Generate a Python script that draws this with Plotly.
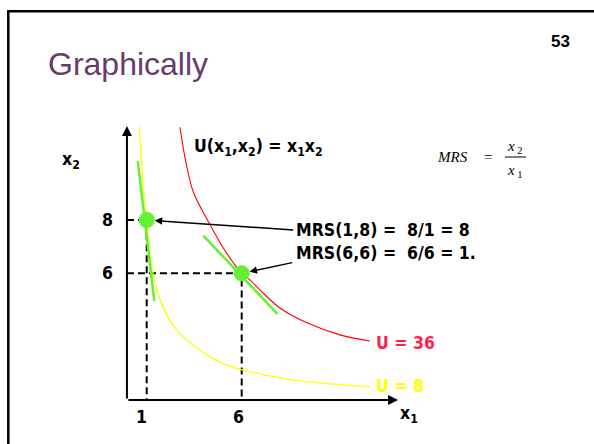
import plotly.graph_objects as go

W, H = 594, 444

# Indifference curve U = 8, traced as (x1, x2) pairs
u8_x1 = [0.61, 0.74, 0.87, 1.0, 1.04, 1.33, 1.86, 2.59, 3.65, 4.86, 6.07, 7.49, 9.07, 10.65, 12.75]
u8_x2 = [11.50, 10.06, 8.83, 8.0, 7.62, 6.01, 4.74, 3.87, 3.20, 2.67, 2.37, 2.15, 1.96, 1.85, 1.74]

# Indifference curve U = 36
u36_x1 = [2.75, 3.02, 3.45, 4.29, 5.21, 6.0, 6.43, 7.12, 8.01, 9.44, 11.17, 12.75]
u36_x2 = [11.48, 10.33, 9.06, 7.88, 6.75, 6.0, 5.75, 5.26, 4.70, 4.14, 3.69, 3.46]

# Bundles where the MRS is evaluated
pts_x1 = [1, 6]
pts_x2 = [8, 6]

# Tangent segments at each bundle (x1 ends, x2 ends)
tan1_x1 = [0.53, 1.40]
tan1_x2 = [10.21, 4.96]
tan2_x1 = [3.98, 7.89]
tan2_x2 = [7.41, 4.47]

# Axis extent in data units
AX_X0, AX_X1 = -0.04, 14.23
AX_Y0, AX_Y1 = 1.246, 11.53

GREEN = "#66f033"
YELLOW = "#ffff00"
RED = "#ff0000"
LABEL_RED = "#ff1f4b"
BOLD = "DejaVu Sans Condensed, DejaVu Sans, sans-serif"
BS = 17.5


def px(x):
    return x / W


def py(y):
    return 1 - y / H


fig = go.Figure()

# dashed guides from each bundle to the axes
for x, y in zip(pts_x1, pts_x2):
    fig.add_trace(go.Scatter(x=[AX_X0, x, x], y=[y, y, AX_Y0], mode="lines",
                             line=dict(color="black", width=2, dash="7px,4px"),
                             hoverinfo="skip", showlegend=False))

fig.add_trace(go.Scatter(x=u8_x1, y=u8_x2, mode="lines", line=dict(color=YELLOW, width=1.3, shape="spline"),
                         showlegend=False))
fig.add_trace(go.Scatter(x=u36_x1, y=u36_x2, mode="lines", line=dict(color=RED, width=1.1, shape="spline"),
                         showlegend=False))
fig.add_trace(go.Scatter(x=tan1_x1, y=tan1_x2, mode="lines", line=dict(color=GREEN, width=2.5),
                         showlegend=False))
fig.add_trace(go.Scatter(x=tan2_x1, y=tan2_x2, mode="lines", line=dict(color=GREEN, width=2.5),
                         showlegend=False))
fig.add_trace(go.Scatter(x=pts_x1, y=pts_x2, mode="markers", marker=dict(color=GREEN, size=16),
                         showlegend=False))

ann = []

# axes drawn as arrows from the origin
ann.append(dict(x=AX_X1, y=AX_Y0, ax=AX_X0, ay=AX_Y0, axref="x", ayref="y", xref="x", yref="y",
                showarrow=True, arrowhead=2, arrowsize=1, arrowwidth=2, arrowcolor="black", text=""))
ann.append(dict(x=AX_X0, y=AX_Y1, ax=AX_X0, ay=AX_Y0, axref="x", ayref="y", xref="x", yref="y",
                showarrow=True, arrowhead=2, arrowsize=1, arrowwidth=2, arrowcolor="black", text=""))

# pointers from the MRS statements to the bundles
ann.append(dict(x=pts_x1[0], y=pts_x2[0], ax=148, ay=10, xref="x", yref="y", showarrow=True,
                arrowhead=2, arrowsize=1, arrowwidth=1.5, arrowcolor="black", standoff=8, text=""))
ann.append(dict(x=pts_x1[1], y=pts_x2[1], ax=52, ay=-11, xref="x", yref="y", showarrow=True,
                arrowhead=2, arrowsize=1, arrowwidth=1.5, arrowcolor="black", standoff=8, text=""))


def label(text, x, y, size=BS, color="black", family=BOLD, xanchor="center", bold=True):
    ann.append(dict(text=("<b>%s</b>" % text) if bold else text, x=px(x), y=py(y),
                    xref="paper", yref="paper", showarrow=False, xanchor=xanchor, yanchor="middle",
                    font=dict(size=size, color=color, family=family)))


label("Graphically", 46, 64, size=32, color="#6b3a6b", family="Liberation Sans, Arial, sans-serif",
      xanchor="left", bold=False)
label("53", 560, 41, size=17, family="Liberation Sans, Arial, sans-serif")

# axis labels and tick values
label("x<sub>2</sub>", 71, 160)
label("x<sub>1</sub>", 409, 414)
for v in pts_x2:
    ann.append(dict(text="<b>%d</b>" % v, x=px(107), y=v, xref="paper", yref="y",
                    xanchor="center", yanchor="middle", showarrow=False,
                    font=dict(size=BS, family=BOLD, color="black")))
for v, shift in zip(pts_x1, [-5, -3]):
    ann.append(dict(text="<b>%d</b>" % v, x=v, y=py(417), xref="x", yref="paper",
                    xanchor="center", yanchor="middle", xshift=shift, showarrow=False,
                    font=dict(size=BS, family=BOLD, color="black")))

label("U(x<sub>1</sub>,x<sub>2</sub>) = x<sub>1</sub>x<sub>2</sub>", 192, 148, xanchor="left")
label("MRS(1,8) =\u00a0 8/1 = 8", 294, 230, xanchor="left")
label("MRS(6,6) =\u00a0 6/6 = 1.", 294, 253, xanchor="left")
label("U = 36", 374, 343, color=LABEL_RED, xanchor="left")
label("U = 8", 374, 386, color=YELLOW, xanchor="left")

# MRS = x2 / x1 formula
SERIF = "Liberation Serif, Times New Roman, serif"
label("<i>MRS</i>", 452, 157, size=15, family=SERIF, bold=False)
label("=", 488, 157, size=15, family=SERIF, bold=False)
label("<i>x</i><sub> 2</sub>", 515, 147, size=15, family=SERIF, bold=False)
label("<i>x</i><sub> 1</sub>", 515, 171, size=15, family=SERIF, bold=False)

shapes = [
    # fraction bar
    dict(type="line", xref="paper", yref="paper", x0=px(505), x1=px(526), y0=py(157), y1=py(157),
         line=dict(color="black", width=1)),
    # slide frame
    dict(type="rect", xref="paper", yref="paper", x0=px(8.3), y0=-0.1, x1=1.1, y1=py(11.3),
         line=dict(color="black", width=2.5)),
]

fig.update_layout(
    width=W, height=H,
    margin=dict(l=0, r=0, t=0, b=0, pad=0),
    paper_bgcolor="white", plot_bgcolor="white",
    xaxis=dict(range=[-127.7 / 19, (W - 127.7) / 19], visible=False, fixedrange=True),
    yaxis=dict(range=[8 - 224 / 26.65, 8 + 220 / 26.65], visible=False, fixedrange=True),
    annotations=ann, shapes=shapes, showlegend=False,
)

fig.write_html("out.html")
